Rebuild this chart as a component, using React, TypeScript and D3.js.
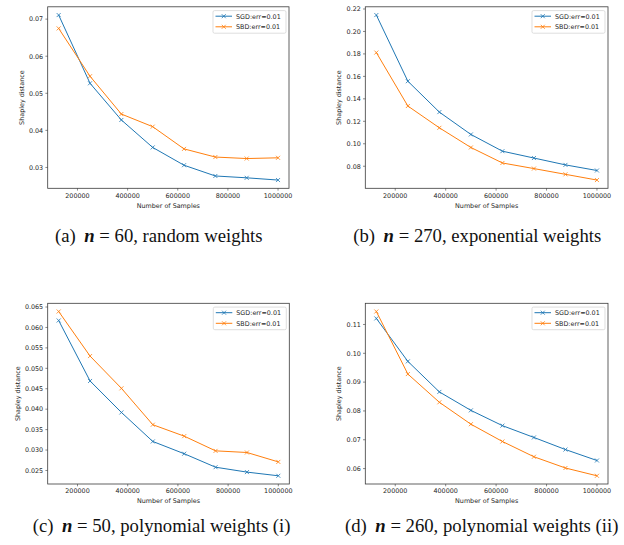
import * as d3 from 'd3'

// x positions shared by every panel
const samples = [125000, 250000, 375000, 500000, 625000, 750000, 875000, 1000000]
const xTicks = [200000, 400000, 600000, 800000, 1000000]

// (a) n = 60, random weights
const aSGD = [0.0711, 0.0527, 0.0428, 0.0354, 0.0306, 0.0277, 0.0272, 0.0266]
const aSBD = [0.0675, 0.0546, 0.0444, 0.041, 0.035, 0.0328, 0.0324, 0.0326]
const aTicks = [0.03, 0.04, 0.05, 0.06, 0.07]

// (b) n = 270, exponential weights
const bSGD = [0.2146, 0.1557, 0.1282, 0.1083, 0.0934, 0.0873, 0.0812, 0.0762]
const bSBD = [0.1812, 0.1336, 0.1142, 0.0967, 0.0829, 0.0779, 0.0728, 0.0677]
const bTicks = [0.08, 0.1, 0.12, 0.14, 0.16, 0.18, 0.2, 0.22]

// (c) n = 50, polynomial weights (i)
const cSGD = [0.0617, 0.0469, 0.0392, 0.0321, 0.0291, 0.0258, 0.0246, 0.0237]
const cSBD = [0.0639, 0.053, 0.0451, 0.0362, 0.0334, 0.0298, 0.0294, 0.0271]
const cTicks = [0.025, 0.03, 0.035, 0.04, 0.045, 0.05, 0.055, 0.06, 0.065]

// (d) n = 260, polynomial weights (ii)
const dSGD = [0.1121, 0.0972, 0.0866, 0.0802, 0.0749, 0.0708, 0.0666, 0.0628]
const dSBD = [0.1145, 0.0928, 0.083, 0.0754, 0.0694, 0.0641, 0.0602, 0.0575]
const dTicks = [0.06, 0.07, 0.08, 0.09, 0.1, 0.11]

const seriesNames = ['SGD:err=0.01', 'SBD:err=0.01']
const colors = ['#1f77b4', '#ff7f0e']

const FONT = '"DejaVu Sans", sans-serif'
const FS = 6.4
const TEXT = '#262626'

// matplotlib style autoscale: 5% margin on each side
function padded(lo: number, hi: number): [number, number] {
  const m = (hi - lo) * 0.05
  return [lo - m, hi + m]
}

function Panel({ x0, y0, w, h, sgd, sbd, yTicks, fmt }) {
  const x = d3.scaleLinear().domain(padded(d3.min(samples), d3.max(samples))).range([x0, x0 + w])
  const all = sgd.concat(sbd)
  const y = d3.scaleLinear().domain(padded(d3.min(all), d3.max(all))).range([y0 + h, y0])
  const line = d3.line<number>().x((_, i) => x(samples[i])).y(d => y(d))
  const f = d3.format(fmt)
  const tick = 2.3
  const pad = 2.2
  const longest = d3.max(yTicks.map(t => f(t).length)) as number
  const labelW = (longest - 1) * 0.636 * FS + 0.318 * FS
  const ylabX = x0 - tick - pad - labelW - 7.6

  const lx = x0 + w - 3 - 73
  const ly = y0 + 3.8

  return (
    <g>
      {[sgd, sbd].map((s, k) => (
        <g key={k}>
          <path d={line(s)} fill="none" stroke={colors[k]} strokeWidth={1} />
          {s.map((v, i) => {
            const cx = x(samples[i])
            const cy = y(v)
            const r = 2
            return (
              <path
                key={i}
                d={`M${cx - r},${cy - r}L${cx + r},${cy + r}M${cx - r},${cy + r}L${cx + r},${cy - r}`}
                stroke={colors[k]}
                strokeWidth={0.8}
              />
            )
          })}
        </g>
      ))}

      <rect x={x0} y={y0} width={w} height={h} fill="none" stroke="#3a3a3a" strokeWidth={0.8} />

      {/* x axis */}
      {xTicks.map(t => (
        <g key={t}>
          <line x1={x(t)} x2={x(t)} y1={y0 + h} y2={y0 + h + tick} stroke="#3a3a3a" strokeWidth={0.6} />
          <text x={x(t)} y={y0 + h + tick + pad + FS * 0.76} textAnchor="middle" fontSize={FS} fontFamily={FONT} fill={TEXT}>
            {t}
          </text>
        </g>
      ))}
      <text x={x0 + w / 2} y={y0 + h + 19.3} textAnchor="middle" fontSize={FS} fontFamily={FONT} fill={TEXT}>
        Number of Samples
      </text>

      {/* y axis */}
      {yTicks.map(t => (
        <g key={t}>
          <line x1={x0 - tick} x2={x0} y1={y(t)} y2={y(t)} stroke="#3a3a3a" strokeWidth={0.6} />
          <text x={x0 - tick - pad} y={y(t)} dy="0.36em" textAnchor="end" fontSize={FS} fontFamily={FONT} fill={TEXT}>
            {f(t)}
          </text>
        </g>
      ))}
      <text
        transform={`translate(${ylabX},${y0 + h / 2}) rotate(-90)`}
        textAnchor="middle"
        dy="0.36em"
        fontSize={FS}
        fontFamily={FONT}
        fill={TEXT}
      >
        Shapley distance
      </text>

      {/* legend */}
      <rect x={lx} y={ly} width={73} height={22.6} rx={1.5} fill="white" fillOpacity={0.8} stroke="#d0d0d0" strokeWidth={0.7} />
      {seriesNames.map((name, k) => {
        const ry = ly + 5.6 + k * 10.6
        return (
          <g key={name}>
            <line x1={lx + 2.5} x2={lx + 19} y1={ry} y2={ry} stroke={colors[k]} strokeWidth={1} />
            <path
              d={`M${lx + 8.75},${ry - 2}L${lx + 12.75},${ry + 2}M${lx + 8.75},${ry + 2}L${lx + 12.75},${ry - 2}`}
              stroke={colors[k]}
              strokeWidth={0.8}
            />
            <text x={lx + 23} y={ry} dy="0.36em" fontSize={FS} fontFamily={FONT} fill={TEXT}>
              {name}
            </text>
          </g>
        )
      })}
    </g>
  )
}

function Caption({ x, y, tag, rest }) {
  return (
    <text x={x} y={y} fontSize={18.7} fontFamily='"Liberation Serif", serif' fill="#111">
      <tspan>{tag}</tspan>
      <tspan dx={8.5} fontStyle="italic" fontWeight="bold">n</tspan>
      <tspan>{rest}</tspan>
    </text>
  )
}

export default function App() {
  return (
    <svg width={624} height={545} style={{ position: 'absolute', left: 0, top: 0, background: 'white' }}>
      <Panel x0={47.7} y0={6.8} w={241.3} h={181.5} sgd={aSGD} sbd={aSBD} yTicks={aTicks} fmt=".2f" />
      <Panel x0={365.3} y0={6.8} w={242.7} h={181.5} sgd={bSGD} sbd={bSBD} yTicks={bTicks} fmt=".2f" />
      <Panel x0={47.7} y0={303.3} w={241.6} h={180.7} sgd={cSGD} sbd={cSBD} yTicks={cTicks} fmt=".3f" />
      <Panel x0={365.3} y0={303.3} w={242.7} h={180.7} sgd={dSGD} sbd={dSBD} yTicks={dTicks} fmt=".2f" />

      <Caption x={55} y={242} tag="(a)" rest=" = 60, random weights" />
      <Caption x={353.3} y={242} tag="(b)" rest=" = 270, exponential weights" />
      <Caption x={32.7} y={532} tag="(c)" rest=" = 50, polynomial weights (i)" />
      <Caption x={345} y={532} tag="(d)" rest=" = 260, polynomial weights (ii)" />
    </svg>
  )
}
